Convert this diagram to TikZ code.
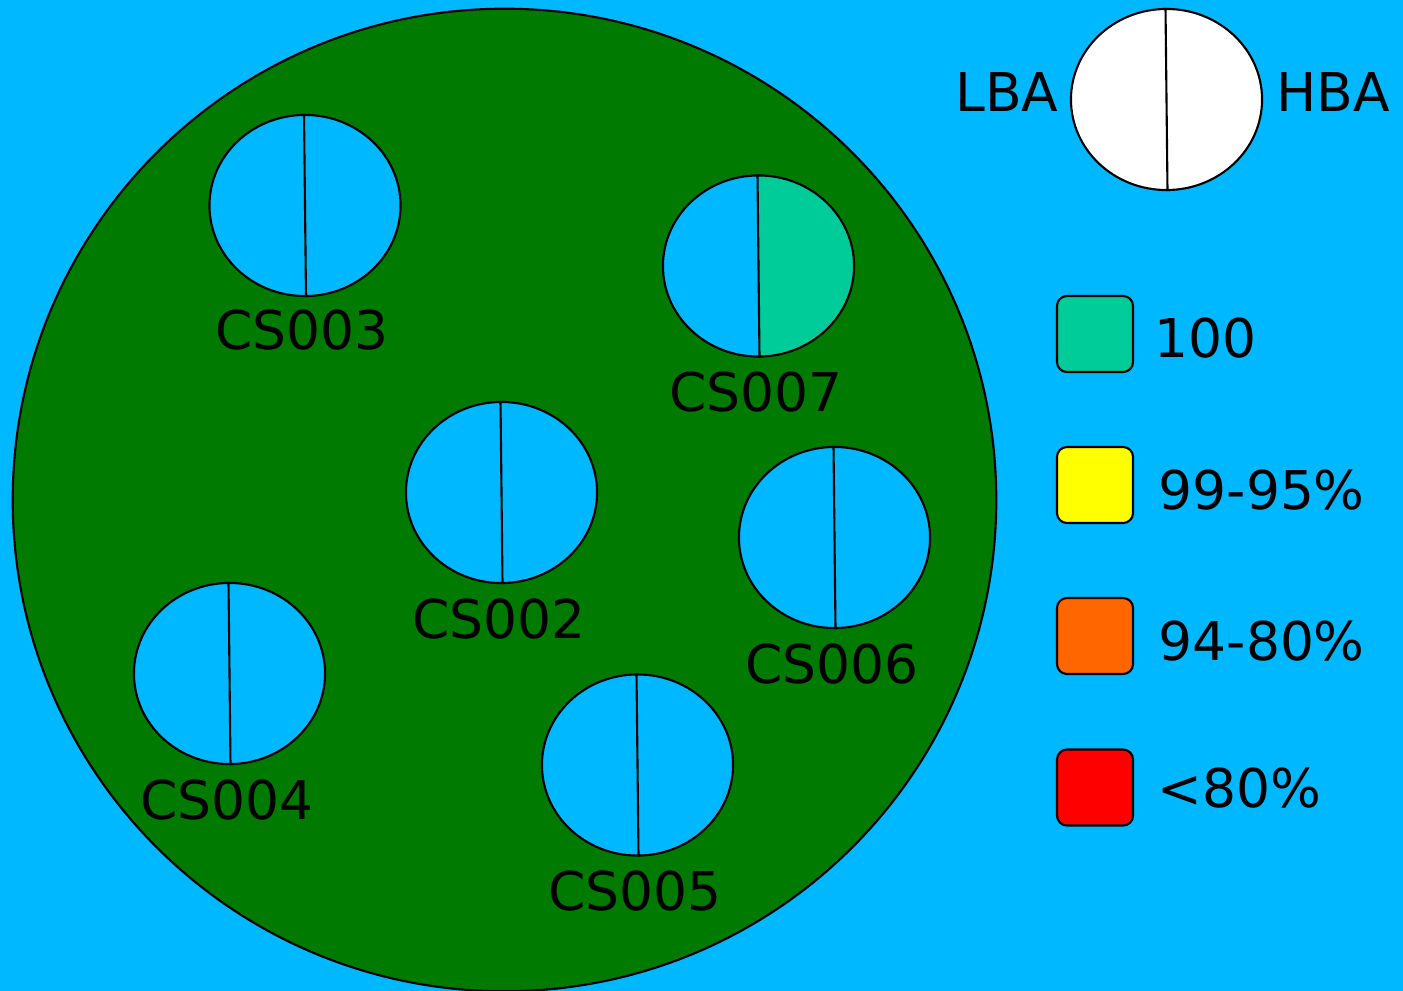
\documentclass[tikz,border=0pt]{standalone}
\usepackage{fontspec}
\setmainfont{DejaVu Sans}
\usetikzlibrary{shapes.geometric}
\definecolor{bgblue}{RGB}{0,184,255}
\definecolor{fieldgreen}{RGB}{0,122,0}
\definecolor{tealok}{RGB}{0,204,153}
\definecolor{orangec}{RGB}{255,102,0}
\definecolor{redc}{RGB}{255,0,0}
\definecolor{yellowc}{RGB}{255,255,0}
\tikzset{
  station/.style={ellipse, draw=black, line width=0.6pt, fill=bgblue, inner sep=0pt,
    minimum width=1.91cm, minimum height=1.81cm},
  divider/.style={draw=black, line width=0.6pt},
  lbl/.style={inner sep=0pt, font=\fontsize{15.2}{18}\selectfont},
  legbox/.style={rectangle, rounded corners=0.1cm, draw=black, line width=0.6pt,
    minimum size=0.76cm, inner sep=0pt}
}
\begin{document}
\begin{tikzpicture}[x=0.01cm, y=-0.01cm]
\fill[bgblue] (0,0) rectangle (1403,991);
\useasboundingbox (0,0) rectangle (1403,991);
% field
\node[ellipse, draw=black, line width=0.6pt, fill=fieldgreen, inner sep=0pt,
  minimum width=9.83cm, minimum height=9.82cm] (field) at (504.5,500) {};
% stations
\node[station] (cs3) at (305,205.5) {};
\node[station, path picture={\fill[tealok] (path picture bounding box.north) rectangle (path picture bounding box.south east);}] (cs7) at (758.5,266) {};
\node[station] (cs2) at (501.5,492.5) {};
\node[station] (cs6) at (834.5,537.5) {};
\node[station] (cs4) at (229.5,673.5) {};
\node[station] (cs5) at (637.5,765) {};
\node[station, fill=white] (key) at (1166.5,99.5) {};
\foreach \n in {cs3,cs7,cs2,cs6,cs4,cs5,key}{
  \draw[divider] ([xshift=-0.01cm]\n.north) -- ([xshift=0.01cm]\n.south);
}
% station labels
\node[lbl, anchor=base] (l3) at (302,350) {CS003};
\node[lbl, anchor=base] (l7) at (756,411) {CS007};
\node[lbl, anchor=base] (l2) at (499,638) {CS002};
\node[lbl, anchor=base] (l6) at (832,683) {CS006};
\node[lbl, anchor=base] (l4) at (227,819) {CS004};
\node[lbl, anchor=base] (l5) at (635,910) {CS005};
% key labels
\node[lbl, anchor=base east] (lba) at (1059,112) {LBA};
\node[lbl, anchor=base west] (hba) at (1276,112) {HBA};
% legend
\node[legbox, fill=tealok] (b1) at (1095,334) {};
\node[legbox, fill=yellowc] (b2) at (1095,485) {};
\node[legbox, fill=orangec] (b3) at (1095,636) {};
\node[legbox, fill=redc] (b4) at (1095,787.5) {};
\node[lbl, anchor=base west] (t1) at (1154,357) {100};
\node[lbl, anchor=base west] (t2) at (1158,509) {99-95\%};
\node[lbl, anchor=base west] (t3) at (1158,660) {94-80\%};
\node[lbl, anchor=base west] (t4) at (1157,807) {<80\%};
\end{tikzpicture}
\end{document}
